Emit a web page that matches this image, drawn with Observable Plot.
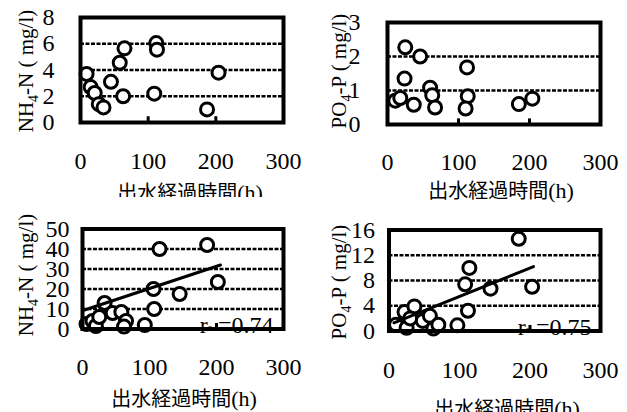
<!DOCTYPE html>
<html><head><meta charset="utf-8">
<script src="https://cdn.jsdelivr.net/npm/d3@7"></script>
<script src="https://cdn.jsdelivr.net/npm/@observablehq/plot@0.6"></script>
<style>
body{margin:0;background:#fff}
#wrap{position:relative;width:627px;height:412px;overflow:hidden;background:#fff}
.panel{position:absolute;overflow:hidden;background:#fff}
.panel svg, .panel text, .panel tspan{font-family:"Liberation Serif","Times New Roman",serif !important}
.panel tspan.cjk{font-family:"Noto Sans CJK JP","Noto Sans CJK SC",sans-serif !important}
</style></head><body><div id="wrap"></div>
<script>
// shared x axis
const xTicks = [0, 100, 200, 300];
const xInnerTicks = [100, 200];
const xTitle = "出水経過時間";
const xUnit = "(h)";

// panel 1: NH4-N (top)
const p1Hours = [9, 15, 21, 27, 34, 45, 58, 65, 63, 112, 113, 109, 204, 187];
const p1Values = [3.7, 2.7, 2.25, 1.4, 1.15, 3.1, 4.55, 5.65, 2.0, 6.05, 5.55, 2.2, 3.8, 1.0];
const p1Ticks = [0, 2, 4, 6, 8];

// panel 2: PO4-P (top)
const p2Hours = [11, 18, 25, 46, 24, 37, 60, 63, 67, 112, 113, 110, 185, 204];
const p2Values = [0.7, 0.78, 2.27, 2.0, 1.35, 0.58, 1.08, 0.86, 0.5, 1.68, 0.83, 0.47, 0.6, 0.76];
const p2Ticks = [0, 1, 2, 3];

// panel 3: NH4-N (bottom)
const p3Hours = [6, 15, 20, 25, 33, 45, 58, 65, 62, 93, 107, 106, 145, 202, 115, 186];
const p3Values = [2.5, 4, 1.5, 6, 13, 8, 8.5, 4, 1.2, 2, 10, 20, 17.5, 23.5, 40, 42];
const p3Ticks = [0, 10, 20, 30, 40, 50];
const p3TrendHours = [3, 206];
const p3TrendValues = [9.5, 32];
const p3R = "0.74";

// panel 4: PO4-P (bottom)
const p4Hours = [10, 22, 25, 36, 30, 48, 58, 63, 70, 97, 112, 108, 114, 144, 184, 203];
const p4Values = [1.0, 3.0, 0.5, 3.9, 2.0, 1.6, 2.4, 0.4, 1.0, 0.9, 3.2, 7.4, 10.0, 6.7, 14.6, 7.0];
const p4Ticks = [0, 4, 8, 12, 16];
const p4TrendHours = [7, 205];
const p4TrendValues = [1.3, 10.2];
const p4R = "0.75";

const serif = "Liberation Serif";

function panel(cfg) {
  const data = cfg.hours.map((x, i) => ({x, y: cfg.values[i]}));
  const yMax = cfg.yTicks[cfg.yTicks.length - 1];
  const marks = [
    Plot.ruleY(cfg.yTicks.slice(1, -1), {stroke: "black", strokeWidth: 2.5, strokeDasharray: "4,1.5"}),
    Plot.ruleX(xInnerTicks, {y1: 0, y2: yMax * 0.055, stroke: "black", strokeWidth: 3}),
    Plot.axisX(xTicks, {tickSize: 0, tickPadding: cfg.padX, fontSize: 24}),
    Plot.axisY(cfg.yTicks, {tickSize: 0, tickPadding: cfg.padY, fontSize: 24})
  ];
  marks.push(Plot.dot(data, {x: "x", y: "y", r: 6.5, stroke: "black", strokeWidth: 3, fill: "white"}));
  if (cfg.trend) {
    marks.push(Plot.line(cfg.trend.hours.map((x, i) => ({x, y: cfg.trend.values[i]})), {x: "x", y: "y", stroke: "black", strokeWidth: 3}));
  }
  if (cfg.r) {
    marks.push(Plot.text([cfg.r], {frameAnchor: "bottom-right", text: d => d, dx: cfg.rdx, dy: 4, lineAnchor: "bottom", textAnchor: "end", fontSize: 24, fill: "black"}));
  }
  marks.push(Plot.frame({stroke: "black", strokeWidth: 4}));

  const svg = Plot.plot({
    width: cfg.w, height: 206,
    marginLeft: cfg.m[0], marginRight: cfg.m[1], marginTop: cfg.m[2], marginBottom: cfg.m[3],
    x: {domain: [0, 300], label: null},
    y: {domain: [0, yMax], label: null},
    style: {fontFamily: serif, background: "white", color: "black", overflow: "visible"},
    marks
  });
  const s = d3.select(svg);
  // r label with small subscript
  if (cfg.r) {
    s.selectAll("text").filter(function(){ return this.textContent === cfg.r; }).each(function(){
      const el = d3.select(this);
      el.text(null);
      el.append("tspan").text("r");
      el.append("tspan").attr("font-size", 11).attr("font-weight", "bold").attr("dy", -2).text("s");
      el.append("tspan").attr("dy", 2).text(" =" + cfg.r);
    });
  }
  // y label
  const yl = s.append("text")
    .attr("transform", `translate(${cfg.ylx},${cfg.yly}) rotate(-90)`)
    .attr("text-anchor", "middle").attr("font-size", 21).attr("fill", "black");
  yl.append("tspan").text(cfg.yl[0]);
  yl.append("tspan").attr("font-size", 14).attr("dy", 5).text(cfg.yl[1]);
  yl.append("tspan").attr("dy", -5).text(cfg.yl[2]);
  // x title
  const xt = s.append("text").attr("x", cfg.tx).attr("y", cfg.ty).attr("text-anchor", "middle").attr("fill", "black");
  xt.append("tspan").attr("class", "cjk").attr("font-size", 20).text(xTitle);
  xt.append("tspan").attr("font-size", 22).text(xUnit);

  const div = document.createElement("div");
  div.className = "panel";
  div.style.left = cfg.left + "px"; div.style.top = cfg.top + "px";
  div.style.width = cfg.w + "px"; div.style.height = cfg.clip + "px";
  div.appendChild(svg);
  document.getElementById("wrap").appendChild(div);
}

panel({left: 0, top: 0, w: 314, clip: 197, m: [80, 31, 17, 84], hours: p1Hours, values: p1Values, yTicks: p1Ticks,
  padX: 29, padY: 26, yl: ["NH", "4", "-N ( mg/l)"], ylx: 33, yly: 71, tx: 190, ty: 200});
panel({left: 314, top: 0, w: 313, clip: 206, m: [73, 27, 22, 82], hours: p2Hours, values: p2Values, yTicks: p2Ticks,
  padX: 28, padY: 27, yl: ["PO", "4", "-P ( mg/l)"], ylx: 32, yly: 71, tx: 187, ty: 198});
panel({left: 0, top: 206, w: 314, clip: 206, m: [82, 31, 22.5, 83.5], hours: p3Hours, values: p3Values, yTicks: p3Ticks,
  padX: 29, padY: 13, yl: ["NH", "4", "-N ( mg/l)"], ylx: 33, yly: 69, tx: 184, ty: 200,
  trend: {hours: p3TrendHours, values: p3TrendValues}, r: p3R, rdx: -10});
panel({left: 314, top: 206, w: 313, clip: 206, m: [74.5, 27, 23.5, 81.5], hours: p4Hours, values: p4Values, yTicks: p4Ticks,
  padX: 30, padY: 14, yl: ["PO", "4", "-P ( mg/l)"], ylx: 32, yly: 76, tx: 193, ty: 210,
  trend: {hours: p4TrendHours, values: p4TrendValues}, r: p4R, rdx: -9});
</script></body></html>
